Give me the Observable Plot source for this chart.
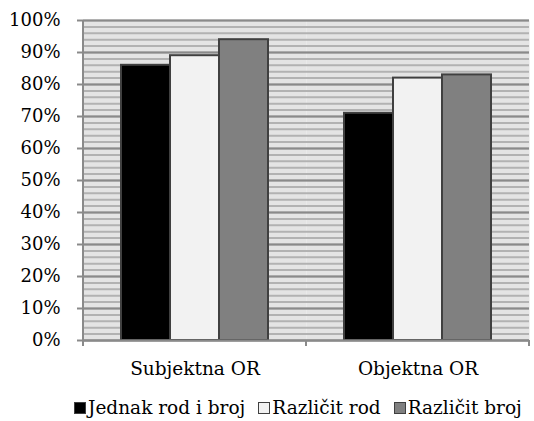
<!DOCTYPE html>
<html><head><meta charset="utf-8">
<script src="https://cdn.jsdelivr.net/npm/d3@7"></script>
<script src="https://cdn.jsdelivr.net/npm/@observablehq/plot@0.6"></script>
<style>
body{margin:0;background:#fff;font-family:"DejaVu Serif";}
#legend{display:flex;gap:13px;margin-left:74px;margin-top:7px;font-size:18.5px;color:#000;font-family:"DejaVu Serif";}
.item{display:flex;align-items:center;white-space:nowrap;}
.sw{width:12px;height:12px;border:1px solid #404040;margin-right:2px;box-sizing:border-box;}
</style></head><body><div id="chart"></div><div id="legend"></div>
<script>
const groups = ["Subjektna OR", "Objektna OR"];
const series = ["Jednak rod i broj", "Različit rod", "Različit broj"];
const subjektna = [0.86, 0.89, 0.94];
const objektna = [0.71, 0.82, 0.83];
const colors = ["#000000", "#f2f2f2", "#808080"];
const majorTicks = [0, 0.1, 0.2, 0.3, 0.4, 0.5, 0.6, 0.7, 0.8, 0.9, 1];
const minorTicks = d3.range(0, 101, 2).map(v => v / 100);

const rows = [];
series.forEach((s, i) => {
  rows.push({group: groups[0], series: s, value: subjektna[i]});
  rows.push({group: groups[1], series: s, value: objektna[i]});
});

const chart = Plot.plot({
  width: 534,
  height: 390,
  marginLeft: 82,
  marginRight: 5,
  marginTop: 20,
  marginBottom: 50,
  style: {fontFamily: "DejaVu Serif", fontSize: "18px", color: "#000", background: "#fff"},
  fx: {domain: groups, padding: 0, label: null},
  x: {domain: series, paddingInner: 0, paddingOuter: 0.75, axis: null},
  y: {domain: [0, 1], label: null},
  color: {domain: series, range: colors},
  marks: [
    Plot.frame({fill: "#e4e4e4", stroke: "none"}),
    Plot.gridY(minorTicks, {stroke: "#b2b2b2", strokeOpacity: 1, strokeWidth: 2}),
    Plot.gridY(majorTicks, {stroke: "#8a8a8a", strokeOpacity: 1, strokeWidth: 2}),
    Plot.barY(rows, {fx: "group", x: "series", y: "value", fill: "series", stroke: "#404040", strokeWidth: 2, inset: 0}),
    Plot.ruleY([0], {stroke: "#8a8a8a", strokeWidth: 2}),
    Plot.axisY(majorTicks, {tickSize: 6, tickPadding: 17, stroke: "#8a8a8a", strokeWidth: 2, tickFormat: d => Math.round(d * 100) + "%", label: null, fill: "#000"}),
    Plot.axisFx({anchor: "bottom", tickSize: 0, tickPadding: 21, label: null, fill: "#000", fontSize: "18.5px"})
  ]
});

const fx = chart.scale("fx");
const y = chart.scale("y");
const svg = d3.select(chart);
const x0 = fx.apply(groups[0]);
const bw = fx.bandwidth;
const y0 = y.apply(0), y1 = y.apply(1);
const g = svg.append("g").attr("stroke", "#8a8a8a").attr("stroke-width", 2);
g.append("line").attr("x1", x0).attr("x2", x0).attr("y1", y1).attr("y2", y0);
const bounds = groups.map(d => fx.apply(d)).concat([fx.apply(groups[groups.length - 1]) + bw]);
bounds.forEach(b => g.append("line").attr("x1", b).attr("x2", b).attr("y1", y0).attr("y2", y0 + 6));

document.getElementById("chart").appendChild(chart);

const legend = document.getElementById("legend");
series.forEach((s, i) => {
  const item = document.createElement("div");
  item.className = "item";
  const sw = document.createElement("span");
  sw.className = "sw";
  sw.style.background = colors[i];
  item.appendChild(sw);
  item.appendChild(document.createTextNode(s));
  legend.appendChild(item);
});
</script>
</body></html>
